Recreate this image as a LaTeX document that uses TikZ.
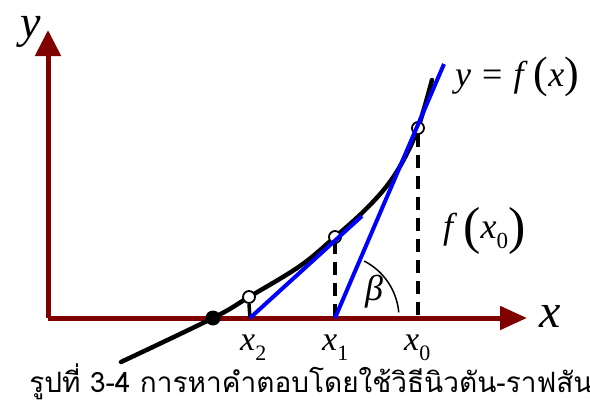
\documentclass[tikz,border=0pt]{standalone}
\usepackage{fontspec}
\setmainfont{Liberation Serif}
\newfontfamily\thaifont[Script=Thai]{Loma}
\usetikzlibrary{arrows.meta}
\definecolor{axisred}{RGB}{128,0,0}
\definecolor{tanblue}{RGB}{0,0,255}
\newcommand{\xsub}[1]{{\fontsize{34}{34}\selectfont\textit{x}\raisebox{-0.32em}{\fontsize{22}{22}\selectfont #1}}}
\begin{document}
\begin{tikzpicture}[x=1pt,y=-1pt,
  axisline/.style={axisred,line width=5pt},
  curveline/.style={black,line width=4.5pt},
  tangentline/.style={tanblue,line width=4pt},
  dropline/.style={black,line width=3.5pt,dash pattern=on 13pt off 8pt},
  opendot/.style={circle,draw=black,fill=white,line width=1.8pt,minimum size=12pt,inner sep=0pt},
  rootdot/.style={circle,fill=black,minimum size=15pt,inner sep=0pt},
  lbl/.style={inner sep=0pt}]
\useasboundingbox (0,0) rectangle (590,407);
% coordinates
\coordinate (O) at (48,318);
\coordinate (Ytip) at (48,30);
\coordinate (Xtip) at (527,318);
\coordinate (X2) at (250,318);
\coordinate (X1) at (335,318);
\coordinate (X0) at (418,318);
\coordinate (P2) at (249,297);
\coordinate (P1) at (335,237);
\coordinate (P0) at (418,128);
\coordinate (T1) at (444,64);
\coordinate (T2) at (362,216);
% axes
\draw[axisline,-{Triangle[length=26pt,width=25pt]}] (O) -- (Ytip);
\draw[axisline,-{Triangle[length=27pt,width=23pt]}] (O) -- (Xtip);
% dashed drop lines
\draw[dropline] (249,304) -- (X2 |- O);
\draw[dropline,dash phase=2pt] (335,243) -- (X1);
\draw[dropline] (418,134) -- (X0);
% curve
\draw[curveline,line cap=round] plot[smooth,tension=0.6] coordinates {(121,362) (213,318) (249,297) (300,266) (335,237) (363,212) (386,187) (403,161) (418,128) (432,80)};
% open dots
\node[opendot] (C2) at (P2) {};
\node[opendot] (C1) at (P1) {};
\node[opendot] (C0) at (P0) {};
% tangents
\draw[tangentline] (X1) -- (T1);
\draw[tangentline] (X2) -- (T2);
% root
\node[rootdot] (R) at (213,318) {};
% angle
\draw[black,line width=1.5pt] (X1) ++(-5:64) arc[start angle=-5,end angle=-63,radius=64];
\node[lbl] (beta) at (374,292) {\fontsize{36}{36}\selectfont\textit{β}};
% labels
\node[lbl] (ylab) at (31,32) {\fontsize{46}{46}\selectfont\textit{y}};
\node[lbl] (xlab) at (550,316) {\fontsize{48}{48}\selectfont\textit{x}};
\node[lbl,anchor=base west] (lx2) at (240,350) {\xsub{2}};
\node[lbl,anchor=base west] (lx1) at (322,350) {\xsub{1}};
\node[lbl,anchor=base west] (lx0) at (404,350) {\xsub{0}};
\node[lbl,anchor=base west] (fx) at (455,86) {\fontsize{36}{36}\selectfont\textit{y}\hspace{11pt}=\hspace{11pt}\textit{f}\,{\fontsize{44}{44}\selectfont\raisebox{-0.04em}{(}}\textit{x}{\fontsize{44}{44}\selectfont\raisebox{-0.04em}{)}}};
\node[lbl,anchor=base west] (fx0) at (443,238) {\fontsize{36}{36}\selectfont\textit{f}\,{\fontsize{52}{52}\selectfont\raisebox{-0.1em}{(}}\textit{x}\raisebox{-0.3em}{\fontsize{23}{23}\selectfont 0}{\fontsize{52}{52}\selectfont\raisebox{-0.1em}{)}}};
\node[lbl] (cap) at (311,382) {\thaifont\fontsize{28}{28}\selectfont รูปที่ 3-4 การหาคำตอบโดยใช้วิธีนิวตัน-ราฟสัน};
\end{tikzpicture}
\end{document}
